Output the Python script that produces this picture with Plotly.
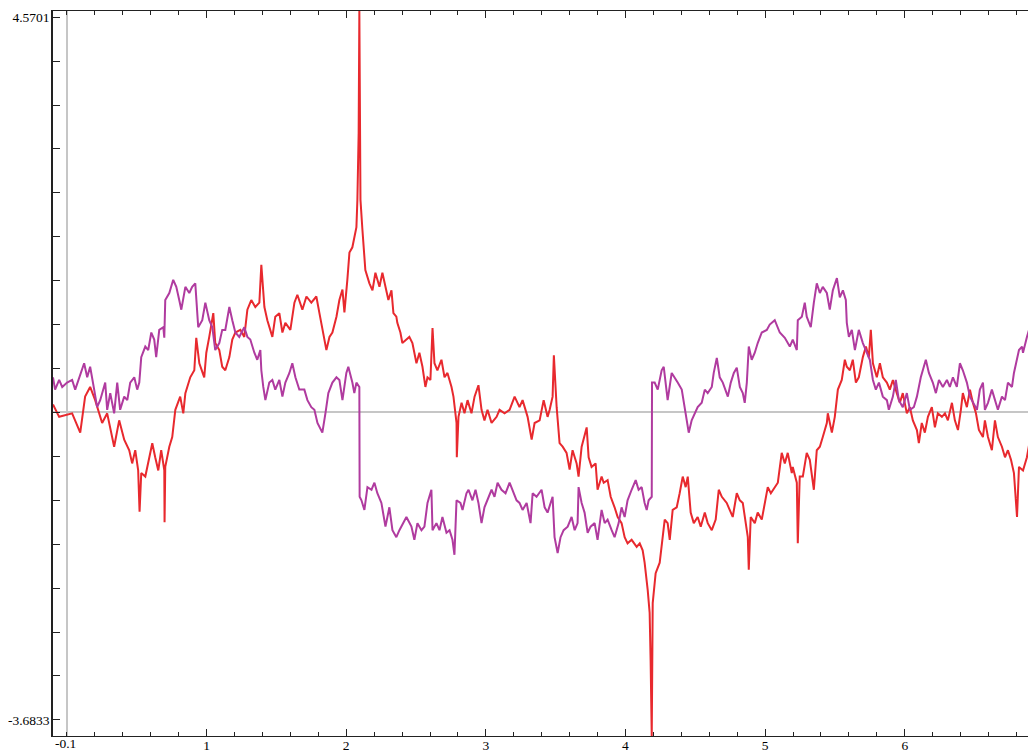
import plotly.graph_objects as go

# ---- data ----
red_x = [
    -0.100, -0.056, 0.037, 0.095, 0.130, 0.166, 0.202, 0.252, 0.288, 0.310,
    0.338, 0.374, 0.410, 0.446, 0.467, 0.489, 0.510, 0.520, 0.532, 0.561,
    0.589, 0.611, 0.632, 0.654, 0.675, 0.697, 0.699, 0.704, 0.733, 0.754,
    0.776, 0.811, 0.833, 0.848, 0.883, 0.912, 0.926, 0.948, 0.983, 0.998,
    1.019, 1.048, 1.062, 1.091, 1.112, 1.134, 1.163, 1.184, 1.206, 1.242,
    1.270, 1.292, 1.320, 1.349, 1.378, 1.392, 1.414, 1.435, 1.471, 1.492,
    1.521, 1.543, 1.564, 1.600, 1.629, 1.650, 1.686, 1.715, 1.750, 1.786,
    1.808, 1.829, 1.858, 1.880, 1.901, 1.930, 1.951, 1.973, 1.987, 2.008,
    2.023, 2.044, 2.073, 2.080, 2.089, 2.094, 2.102, 2.116, 2.123, 2.137,
    2.166, 2.188, 2.209, 2.238, 2.259, 2.288, 2.302, 2.324, 2.338, 2.359,
    2.366, 2.388, 2.402, 2.431, 2.452, 2.474, 2.503, 2.524, 2.546, 2.567,
    2.582, 2.603, 2.618, 2.632, 2.653, 2.682, 2.704, 2.725, 2.754, 2.768,
    2.790, 2.792, 2.804, 2.826, 2.847, 2.869, 2.897, 2.919, 2.947, 2.969,
    2.990, 3.012, 3.041, 3.077, 3.098, 3.134, 3.170, 3.206, 3.241, 3.263,
    3.299, 3.328, 3.349, 3.385, 3.414, 3.442, 3.457, 3.478, 3.487, 3.507,
    3.528, 3.550, 3.578, 3.600, 3.621, 3.650, 3.664, 3.686, 3.700, 3.722,
    3.736, 3.757, 3.786, 3.800, 3.829, 3.844, 3.872, 3.894, 3.922, 3.944,
    3.972, 3.994, 4.015, 4.044, 4.080, 4.102, 4.123, 4.137, 4.159, 4.173,
    4.180, 4.188, 4.195, 4.216, 4.245, 4.259, 4.281, 4.302, 4.317, 4.338,
    4.367, 4.388, 4.410, 4.431, 4.446, 4.467, 4.489, 4.517, 4.539, 4.568,
    4.589, 4.618, 4.646, 4.668, 4.690, 4.725, 4.747, 4.768, 4.797, 4.819,
    4.840, 4.862, 4.876, 4.883, 4.897, 4.926, 4.947, 4.976, 4.998, 5.019,
    5.041, 5.069, 5.091, 5.119, 5.141, 5.162, 5.191, 5.198, 5.227, 5.234,
    5.248, 5.270, 5.298, 5.320, 5.341, 5.349, 5.370, 5.392, 5.413, 5.442,
    5.449, 5.478, 5.499, 5.521, 5.549, 5.571, 5.585, 5.607, 5.628, 5.650,
    5.671, 5.700, 5.722, 5.743, 5.757, 5.772, 5.800, 5.822, 5.843, 5.872,
    5.893, 5.915, 5.943, 5.965, 5.986, 6.015, 6.037, 6.058, 6.087, 6.101,
    6.122, 6.144, 6.166, 6.194, 6.216, 6.237, 6.266, 6.288, 6.309, 6.338,
    6.359, 6.381, 6.402, 6.416, 6.445, 6.467, 6.488, 6.510, 6.531, 6.560,
    6.574, 6.596, 6.624, 6.646, 6.667, 6.696, 6.718, 6.739, 6.761, 6.782,
    6.804, 6.818, 6.847, 6.875, 6.897, 6.918, 6.940,
]
red_y = [
    0.09, -0.05, -0.01, -0.23, 0.18, 0.29, 0.14, -0.12, -0.01, -0.17,
    -0.39, -0.09, -0.31, -0.43, -0.58, -0.43, -0.66, -1.13, -0.69, -0.73,
    -0.51, -0.35, -0.51, -0.66, -0.43, -0.66, -1.25, -0.62, -0.39, -0.28,
    0.03, 0.18, -0.01, 0.22, 0.40, 0.48, 0.85, 0.56, 0.40, 0.68,
    0.86, 1.13, 0.79, 0.71, 0.52, 0.48, 0.63, 0.83, 0.91, 0.94,
    0.86, 1.17, 1.28, 1.20, 1.25, 1.68, 1.20, 1.05, 0.86, 1.09,
    1.13, 0.91, 1.02, 0.94, 1.25, 1.34, 1.17, 1.32, 1.25, 1.32,
    1.13, 0.97, 0.71, 0.86, 0.91, 1.09, 1.28, 1.40, 1.14, 1.51,
    1.82, 1.88, 2.11, 2.42, 3.18, 4.5701, 2.42, 2.08, 1.88, 1.62,
    1.47, 1.39, 1.59, 1.43, 1.59, 1.39, 1.28, 1.39, 1.13, 1.09,
    1.02, 0.91, 0.79, 0.83, 0.86, 0.79, 0.56, 0.68, 0.52, 0.29,
    0.40, 0.37, 0.96, 0.56, 0.48, 0.60, 0.40, 0.45, 0.29, 0.18,
    -0.12, -0.51, -0.05, 0.11, -0.01, 0.14, -0.01, 0.18, 0.31, 0.03,
    -0.09, 0.03, -0.12, -0.05, 0.03, -0.01, 0.03, 0.18, 0.06, 0.14,
    -0.05, -0.31, -0.12, -0.09, 0.14, -0.05, 0.03, 0.18, 0.65, 0.06,
    -0.35, -0.39, -0.46, -0.65, -0.43, -0.58, -0.73, -0.39, -0.31, -0.17,
    -0.51, -0.62, -0.58, -0.88, -0.73, -0.80, -0.77, -0.96, -1.08, -1.19,
    -1.26, -1.42, -1.49, -1.45, -1.53, -1.49, -1.57, -1.71, -2.02, -2.28,
    -2.82, -3.6833, -2.17, -1.83, -1.71, -1.49, -1.22, -1.26, -1.45, -1.11,
    -1.08, -0.92, -0.73, -0.85, -0.73, -1.14, -1.26, -1.19, -1.30, -1.14,
    -1.26, -1.34, -1.22, -0.88, -0.96, -1.03, -1.11, -1.19, -0.92, -1.00,
    -1.03, -1.26, -1.42, -1.79, -1.19, -1.26, -1.14, -1.22, -1.03, -0.85,
    -0.92, -0.85, -0.80, -0.46, -0.58, -0.46, -0.69, -0.62, -0.80, -1.49,
    -0.73, -0.73, -0.46, -0.54, -0.77, -0.88, -0.43, -0.39, -0.28, -0.12,
    -0.01, -0.23, -0.05, 0.26, 0.37, 0.60, 0.52, 0.48, 0.60, 0.34,
    0.40, 0.63, 0.75, 0.63, 0.94, 0.56, 0.40, 0.56, 0.40, 0.34,
    0.26, 0.37, 0.22, 0.11, 0.22, -0.01, 0.06, -0.09, -0.20, -0.35,
    -0.12, -0.23, -0.05, 0.06, -0.17, -0.01, -0.05, -0.01, -0.09, 0.11,
    -0.09, -0.20, 0.03, 0.22, 0.06, 0.26, 0.11, -0.01, -0.20, -0.28,
    -0.09, -0.28, -0.43, -0.09, -0.28, -0.39, -0.51, -0.43, -0.54, -0.69,
    -1.19, -0.62, -0.66, -0.51, -0.31, -0.58, -0.66,
]

purple_x = [
    -0.100, -0.085, -0.056, -0.034, 0.001, 0.037, 0.059, 0.087, 0.123, 0.145,
    0.166, 0.195, 0.216, 0.238, 0.274, 0.288, 0.310, 0.338, 0.360, 0.381,
    0.410, 0.432, 0.453, 0.482, 0.503, 0.518, 0.532, 0.561, 0.582, 0.604,
    0.625, 0.639, 0.661, 0.690, 0.697, 0.704, 0.733, 0.761, 0.783, 0.804,
    0.819, 0.848, 0.876, 0.897, 0.919, 0.940, 0.969, 0.991, 1.019, 1.041,
    1.062, 1.091, 1.112, 1.134, 1.163, 1.184, 1.206, 1.234, 1.270, 1.292,
    1.313, 1.342, 1.363, 1.385, 1.392, 1.406, 1.421, 1.449, 1.471, 1.492,
    1.521, 1.543, 1.564, 1.593, 1.614, 1.636, 1.664, 1.700, 1.722, 1.750,
    1.772, 1.794, 1.822, 1.829, 1.851, 1.872, 1.901, 1.930, 1.951, 1.973,
    2.001, 2.015, 2.044, 2.058, 2.073, 2.094, 2.096, 2.109, 2.130, 2.152,
    2.181, 2.202, 2.223, 2.252, 2.281, 2.309, 2.331, 2.359, 2.381, 2.410,
    2.431, 2.467, 2.488, 2.510, 2.539, 2.560, 2.582, 2.610, 2.618, 2.646,
    2.668, 2.689, 2.718, 2.740, 2.761, 2.775, 2.790, 2.818, 2.833, 2.861,
    2.876, 2.904, 2.926, 2.947, 2.969, 2.990, 3.012, 3.041, 3.062, 3.084,
    3.112, 3.141, 3.170, 3.191, 3.220, 3.241, 3.263, 3.292, 3.320, 3.335,
    3.363, 3.399, 3.421, 3.442, 3.471, 3.478, 3.492, 3.514, 3.535, 3.557,
    3.586, 3.614, 3.636, 3.657, 3.664, 3.686, 3.707, 3.729, 3.750, 3.779,
    3.800, 3.829, 3.851, 3.872, 3.901, 3.922, 3.951, 3.972, 3.994, 4.015,
    4.044, 4.073, 4.094, 4.116, 4.137, 4.152, 4.166, 4.188, 4.190, 4.209,
    4.231, 4.259, 4.274, 4.302, 4.331, 4.353, 4.374, 4.403, 4.424, 4.453,
    4.474, 4.496, 4.517, 4.546, 4.568, 4.589, 4.618, 4.632, 4.654, 4.675,
    4.697, 4.733, 4.754, 4.776, 4.797, 4.819, 4.840, 4.854, 4.869, 4.883,
    4.904, 4.926, 4.947, 4.976, 5.012, 5.033, 5.069, 5.105, 5.141, 5.177,
    5.198, 5.227, 5.234, 5.263, 5.284, 5.298, 5.327, 5.349, 5.370, 5.392,
    5.413, 5.442, 5.463, 5.485, 5.514, 5.535, 5.557, 5.578, 5.585, 5.600,
    5.621, 5.643, 5.671, 5.700, 5.722, 5.750, 5.772, 5.793, 5.815, 5.843,
    5.872, 5.886, 5.915, 5.936, 5.958, 5.986, 6.015, 6.037, 6.065, 6.087,
    6.115, 6.130, 6.151, 6.173, 6.201, 6.223, 6.245, 6.273, 6.302, 6.323,
    6.345, 6.373, 6.395, 6.416, 6.445, 6.467, 6.488, 6.517, 6.538, 6.560,
    6.574, 6.596, 6.624, 6.646, 6.667, 6.696, 6.718, 6.739, 6.768, 6.782,
    6.804, 6.818, 6.840, 6.847, 6.875, 6.890, 6.911, 6.918, 6.940,
]
purple_y = [
    0.40, 0.26, 0.37, 0.29, 0.34, 0.37, 0.26, 0.40, 0.56, 0.40,
    0.52, 0.26, 0.06, 0.14, 0.34, 0.03, 0.22, -0.01, 0.34, 0.03,
    0.18, 0.14, 0.34, 0.40, 0.26, 0.34, 0.63, 0.75, 0.71, 0.91,
    0.83, 0.63, 0.94, 0.97, 0.85, 1.28, 1.36, 1.51, 1.43, 1.28,
    1.17, 1.43, 1.36, 1.43, 1.47, 0.97, 1.05, 1.25, 1.05, 0.97,
    0.71, 0.79, 0.94, 0.94, 1.20, 1.05, 0.91, 0.86, 0.97, 0.86,
    0.83, 0.68, 0.60, 0.71, 0.48, 0.29, 0.14, 0.34, 0.37, 0.26,
    0.37, 0.18, 0.34, 0.45, 0.56, 0.40, 0.26, 0.26, 0.14, 0.06,
    0.03, -0.12, -0.20, -0.23, -0.01, 0.22, 0.34, 0.40, 0.37, 0.14,
    0.45, 0.52, 0.34, 0.22, 0.34, 0.29, -0.96, -1.00, -1.11, -0.85,
    -0.88, -0.80, -0.92, -1.03, -1.30, -1.08, -1.34, -1.42, -1.34, -1.26,
    -1.19, -1.30, -1.45, -1.26, -1.34, -1.30, -1.03, -0.88, -1.34, -1.26,
    -1.34, -1.19, -1.37, -1.34, -1.45, -1.62, -1.00, -1.03, -1.11, -0.92,
    -0.88, -1.00, -0.88, -1.03, -1.26, -1.08, -1.00, -0.88, -0.96, -0.80,
    -0.88, -0.92, -0.80, -0.88, -1.00, -1.03, -1.11, -1.03, -1.26, -0.92,
    -0.96, -0.88, -1.08, -1.14, -1.00, -0.96, -1.42, -1.60, -1.42, -1.34,
    -1.30, -1.19, -1.34, -1.26, -0.85, -1.03, -1.14, -1.37, -1.30, -1.26,
    -1.45, -1.11, -1.26, -1.22, -1.34, -1.42, -1.26, -1.08, -1.19, -1.00,
    -0.88, -0.77, -0.88, -0.85, -1.03, -1.11, -1.00, -0.96, 0.34, 0.34,
    0.26, 0.48, 0.52, 0.14, 0.45, 0.40, 0.34, 0.26, 0.03, -0.23,
    -0.09, -0.01, 0.06, 0.11, 0.26, 0.22, 0.29, 0.45, 0.62, 0.40,
    0.34, 0.18, 0.34, 0.45, 0.51, 0.29, 0.22, 0.11, 0.34, 0.75,
    0.60, 0.68, 0.79, 0.91, 0.94, 1.00, 1.05, 0.91, 0.85, 0.75,
    0.83, 0.71, 1.05, 1.09, 1.25, 1.09, 0.97, 1.25, 1.47, 1.36,
    1.43, 1.36, 1.17, 1.39, 1.53, 1.31, 1.39, 1.28, 1.02, 0.86,
    0.94, 0.71, 0.94, 0.79, 0.71, 0.60, 0.37, 0.26, 0.34, 0.18,
    0.14, 0.03, 0.18, 0.37, 0.14, 0.06, 0.22, 0.03, 0.06, 0.18,
    0.40, 0.48, 0.60, 0.45, 0.34, 0.22, 0.37, 0.29, 0.37, 0.29,
    0.40, 0.29, 0.56, 0.48, 0.34, 0.18, 0.11, 0.03, 0.26, 0.34,
    0.03, 0.11, 0.26, 0.14, 0.03, 0.18, 0.14, 0.34, 0.29, 0.45,
    0.60, 0.71, 0.75, 0.68, 0.86, 0.94, 0.83, 0.63, 0.97,
]

x_tick_values = [1, 2, 3, 4, 5, 6]
x_tick_labels = ["1", "2", "3", "4", "5", "6"]
x_origin_label = "-0.1"
y_tick_values = [-3.5, -3, -2.5, -2, -1.5, -1, -0.5, 0, 0.5, 1, 1.5, 2, 2.5, 3, 3.5, 4, 4.5]
y_tick_labels = ["-3.6833"] + [""] * 15 + ["4.5701"]
x_range = [-0.1, 6.94]
y_range = [-3.6833, 4.5701]

RED = "#e8292e"
PURPLE = "#b03b9f"
AXIS = "#222222"
ZERO = "#c6c6c6"
FONT = dict(family="Liberation Serif", size=13.5, color="#000000")

fig = go.Figure()
fig.add_trace(go.Scatter(x=red_x, y=red_y, mode="lines",
                         line=dict(color=RED, width=2), hoverinfo="skip"))
fig.add_trace(go.Scatter(x=purple_x, y=purple_y, mode="lines",
                         line=dict(color=PURPLE, width=2), hoverinfo="skip"))

# The page body adds an 8px offset, so the figure is 8px smaller and the
# margins are shifted to keep the plot frame where the reference has it.
fig.update_layout(
    width=1028, height=745,
    margin=dict(l=45, r=0, t=3, b=17, autoexpand=False),
    paper_bgcolor="white", plot_bgcolor="white",
    showlegend=False,
    font=FONT,
    xaxis=dict(
        range=x_range, tickmode="array", tickvals=x_tick_values, ticktext=x_tick_labels,
        ticks="inside", ticklen=7, tickwidth=1, tickcolor=AXIS,
        showline=True, linecolor=AXIS, linewidth=1.2, mirror="ticks",
        showgrid=False, zeroline=True, zerolinecolor=ZERO, zerolinewidth=1.5,
        minor=dict(dtick=0.2, tick0=0, ticklen=4, ticks="inside", tickcolor=AXIS, showgrid=False),
        tickfont=FONT, automargin=False, ticklabelstandoff=-3,
    ),
    yaxis=dict(
        range=y_range, tickmode="array", tickvals=y_tick_values, ticktext=y_tick_labels,
        ticks="inside", ticklen=7, tickwidth=1, tickcolor=AXIS,
        showline=True, linecolor=AXIS, linewidth=1.5, mirror=False,
        showgrid=False, zeroline=True, zerolinecolor=ZERO, zerolinewidth=1.5,
        tickfont=FONT, automargin=False, ticklabelstandoff=-1,
    ),
    annotations=[dict(
        x=x_range[0], xref="x", y=0, yref="paper", text=x_origin_label,
        showarrow=False, xanchor="left", yanchor="top", yshift=2, font=FONT,
    )],
)

fig.write_html("out.html")
